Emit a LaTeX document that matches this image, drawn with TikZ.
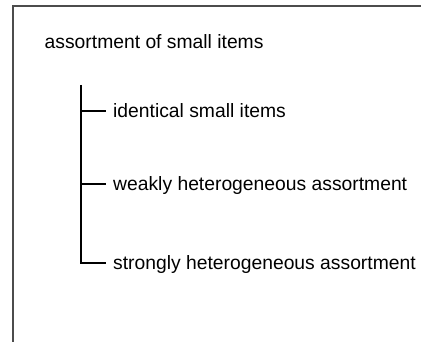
\documentclass[tikz,border=0pt]{standalone}
\usepackage{fontspec}
\setmainfont{Liberation Sans}
\usepackage{tikz}
\usetikzlibrary{positioning}

\begin{document}
\begin{tikzpicture}[
    x=1pt, y=1pt,
    txt/.style={inner sep=0pt, font=\fontsize{19.3}{23}\selectfont},
    item/.style={txt, anchor=west, inner xsep=7.5pt, text height=14pt, text depth=0pt},
    frame/.style={draw=black!70, line width=1.3pt},
    branch/.style={draw=black, line width=1.2pt}
]
    \useasboundingbox (0,0) rectangle (421,-342);
    % frame, only its top and left edges show
    \coordinate (fbl) at (13,-345);
    \coordinate (ftr) at (425,-6);
    \draw[frame] (fbl) |- (ftr);

    \node[txt, anchor=base west] (title) at (44.5,-48.5) {assortment of small items};

    \coordinate (root) at (81,-85);
    \node[item] (ident) at (105.5,-111) {identical small items};
    \node[item] (weak) at (105.5,-184) {weakly heterogeneous assortment};
    \node[item] (strong) at (105.5,-263) {strongly heterogeneous assortment};

    \draw[branch] (root) |- (strong.west);
    \draw[branch] (root |- ident.west) -- (ident.west);
    \draw[branch] (root |- weak.west) -- (weak.west);
\end{tikzpicture}
\end{document}
